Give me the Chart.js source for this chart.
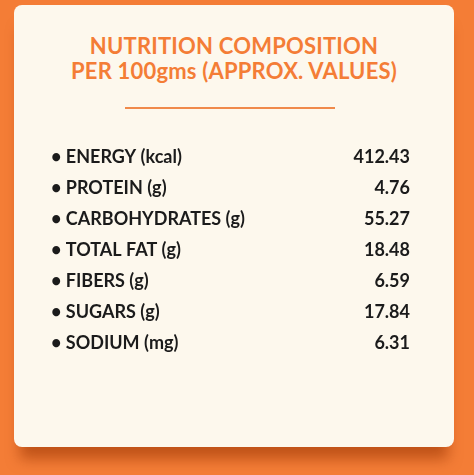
<!DOCTYPE html>
<html>
<head>
<meta charset="utf-8">
<script src="https://cdn.jsdelivr.net/npm/chart.js@4"></script>
<style>
  html, body { margin: 0; padding: 0; }
  body {
    width: 474px; height: 475px; overflow: hidden;
    background: #f47d36; position: relative;
    font-family: Lato, "Open Sans", sans-serif;
  }
  .card {
    position: absolute; left: 14px; top: 5px; width: 440px; height: 442px;
    background: #fdf8ed; border-radius: 8px;
    box-shadow: 0 18px 14px -6px rgba(150, 50, 0, 0.55);
  }
  .title {
    position: absolute; left: 0; top: 28px; width: 100%;
    text-align: center; color: #f47d36; font-weight: 700;
    font-size: 22px; line-height: 25px; letter-spacing: 0.2px;
  }
  .rule {
    position: absolute; left: 111px; top: 102px; width: 210px; height: 2px;
    background: #f08a4b;
  }
  .wrap { position: absolute; left: 37px; top: 126px; width: 359px; height: 238px; }
</style>
</head>
<body>
<div class="card">
  <div class="title">NUTRITION COMPOSITION<br>PER 100gms (APPROX. VALUES)</div>
  <div class="rule"></div>
  <div class="wrap"><canvas id="chart"></canvas></div>
</div>
<script>
// DATA
const nutrients = ["ENERGY (kcal)", "PROTEIN (g)", "CARBOHYDRATES (g)", "TOTAL FAT (g)", "FIBERS (g)", "SUGARS (g)", "SODIUM (mg)"];
const amounts = [412.43, 4.76, 55.27, 18.48, 6.59, 17.84, 6.31];
const valueLabels = ["412.43", "4.76", "55.27", "18.48", "6.59", "17.84", "6.31"];

const tickFont = { family: "Lato, 'Open Sans', sans-serif", size: 18, weight: "bold" };

new Chart(document.getElementById("chart"), {
  type: "bar",
  data: {
    labels: nutrients.map((n) => "• " + n),
    datasets: [{ data: amounts, backgroundColor: "rgba(0,0,0,0)", yAxisID: "y" }],
  },
  options: {
    indexAxis: "y",
    responsive: true,
    maintainAspectRatio: false,
    animation: false,
    plugins: { legend: { display: false }, tooltip: { enabled: false } },
    layout: { padding: 0 },
    scales: {
      x: { display: false },
      y: {
        position: "left",
        grid: { display: false },
        border: { display: false },
        afterFit: (scale) => { scale.width = 250; },
        ticks: { color: "#1b1b1b", font: tickFont, crossAlign: "far", padding: 0 },
      },
      y2: {
        type: "category",
        labels: valueLabels,
        position: "right",
        grid: { display: false },
        border: { display: false },
        afterFit: (scale) => { scale.width = 80; },
        ticks: { color: "#1b1b1b", font: tickFont, crossAlign: "far", padding: 0 },
      },
    },
  },
});
</script>
</body>
</html>
